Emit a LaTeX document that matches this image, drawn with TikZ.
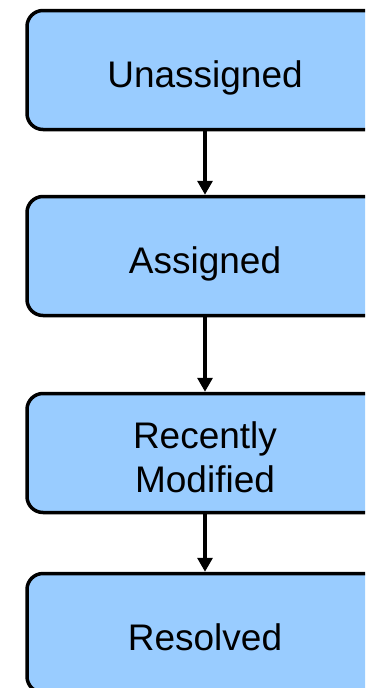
\documentclass[tikz,border=0pt]{standalone}
\usepackage{fontspec}
\setmainfont{Liberation Sans}
\usetikzlibrary{arrows.meta}
\definecolor{boxblue}{HTML}{99CCFF}
\tikzset{
	statestyle/.style={rectangle,rounded corners=16,draw=black,line width=3.5,fill=boxblue,minimum width=356,minimum height=119,align=center,text height=34,text depth=0,font=\fontsize{37}{44}\selectfont},
	arrowstyle/.style={line width=3.2,-{Triangle[width=15,length=14]}}
}
\begin{document}
\begin{tikzpicture}[x=1pt,y=-1pt]
	\useasboundingbox (0,0) rectangle (365,688);
	\clip (0,0) rectangle (365,688);
	\node[statestyle] (a) at (205,70) {Unassigned};
	\node[statestyle] (b) at (205,256) {Assigned};
	\node[statestyle,text height=78] (c) at (205,453) {Recently\\Modified};
	\node[statestyle] (d) at (205,633) {Resolved};
	\draw[arrowstyle] (a)--(b);
	\draw[arrowstyle] (b)--(c);
	\draw[arrowstyle] (c)--(d);
\end{tikzpicture}
\end{document}
